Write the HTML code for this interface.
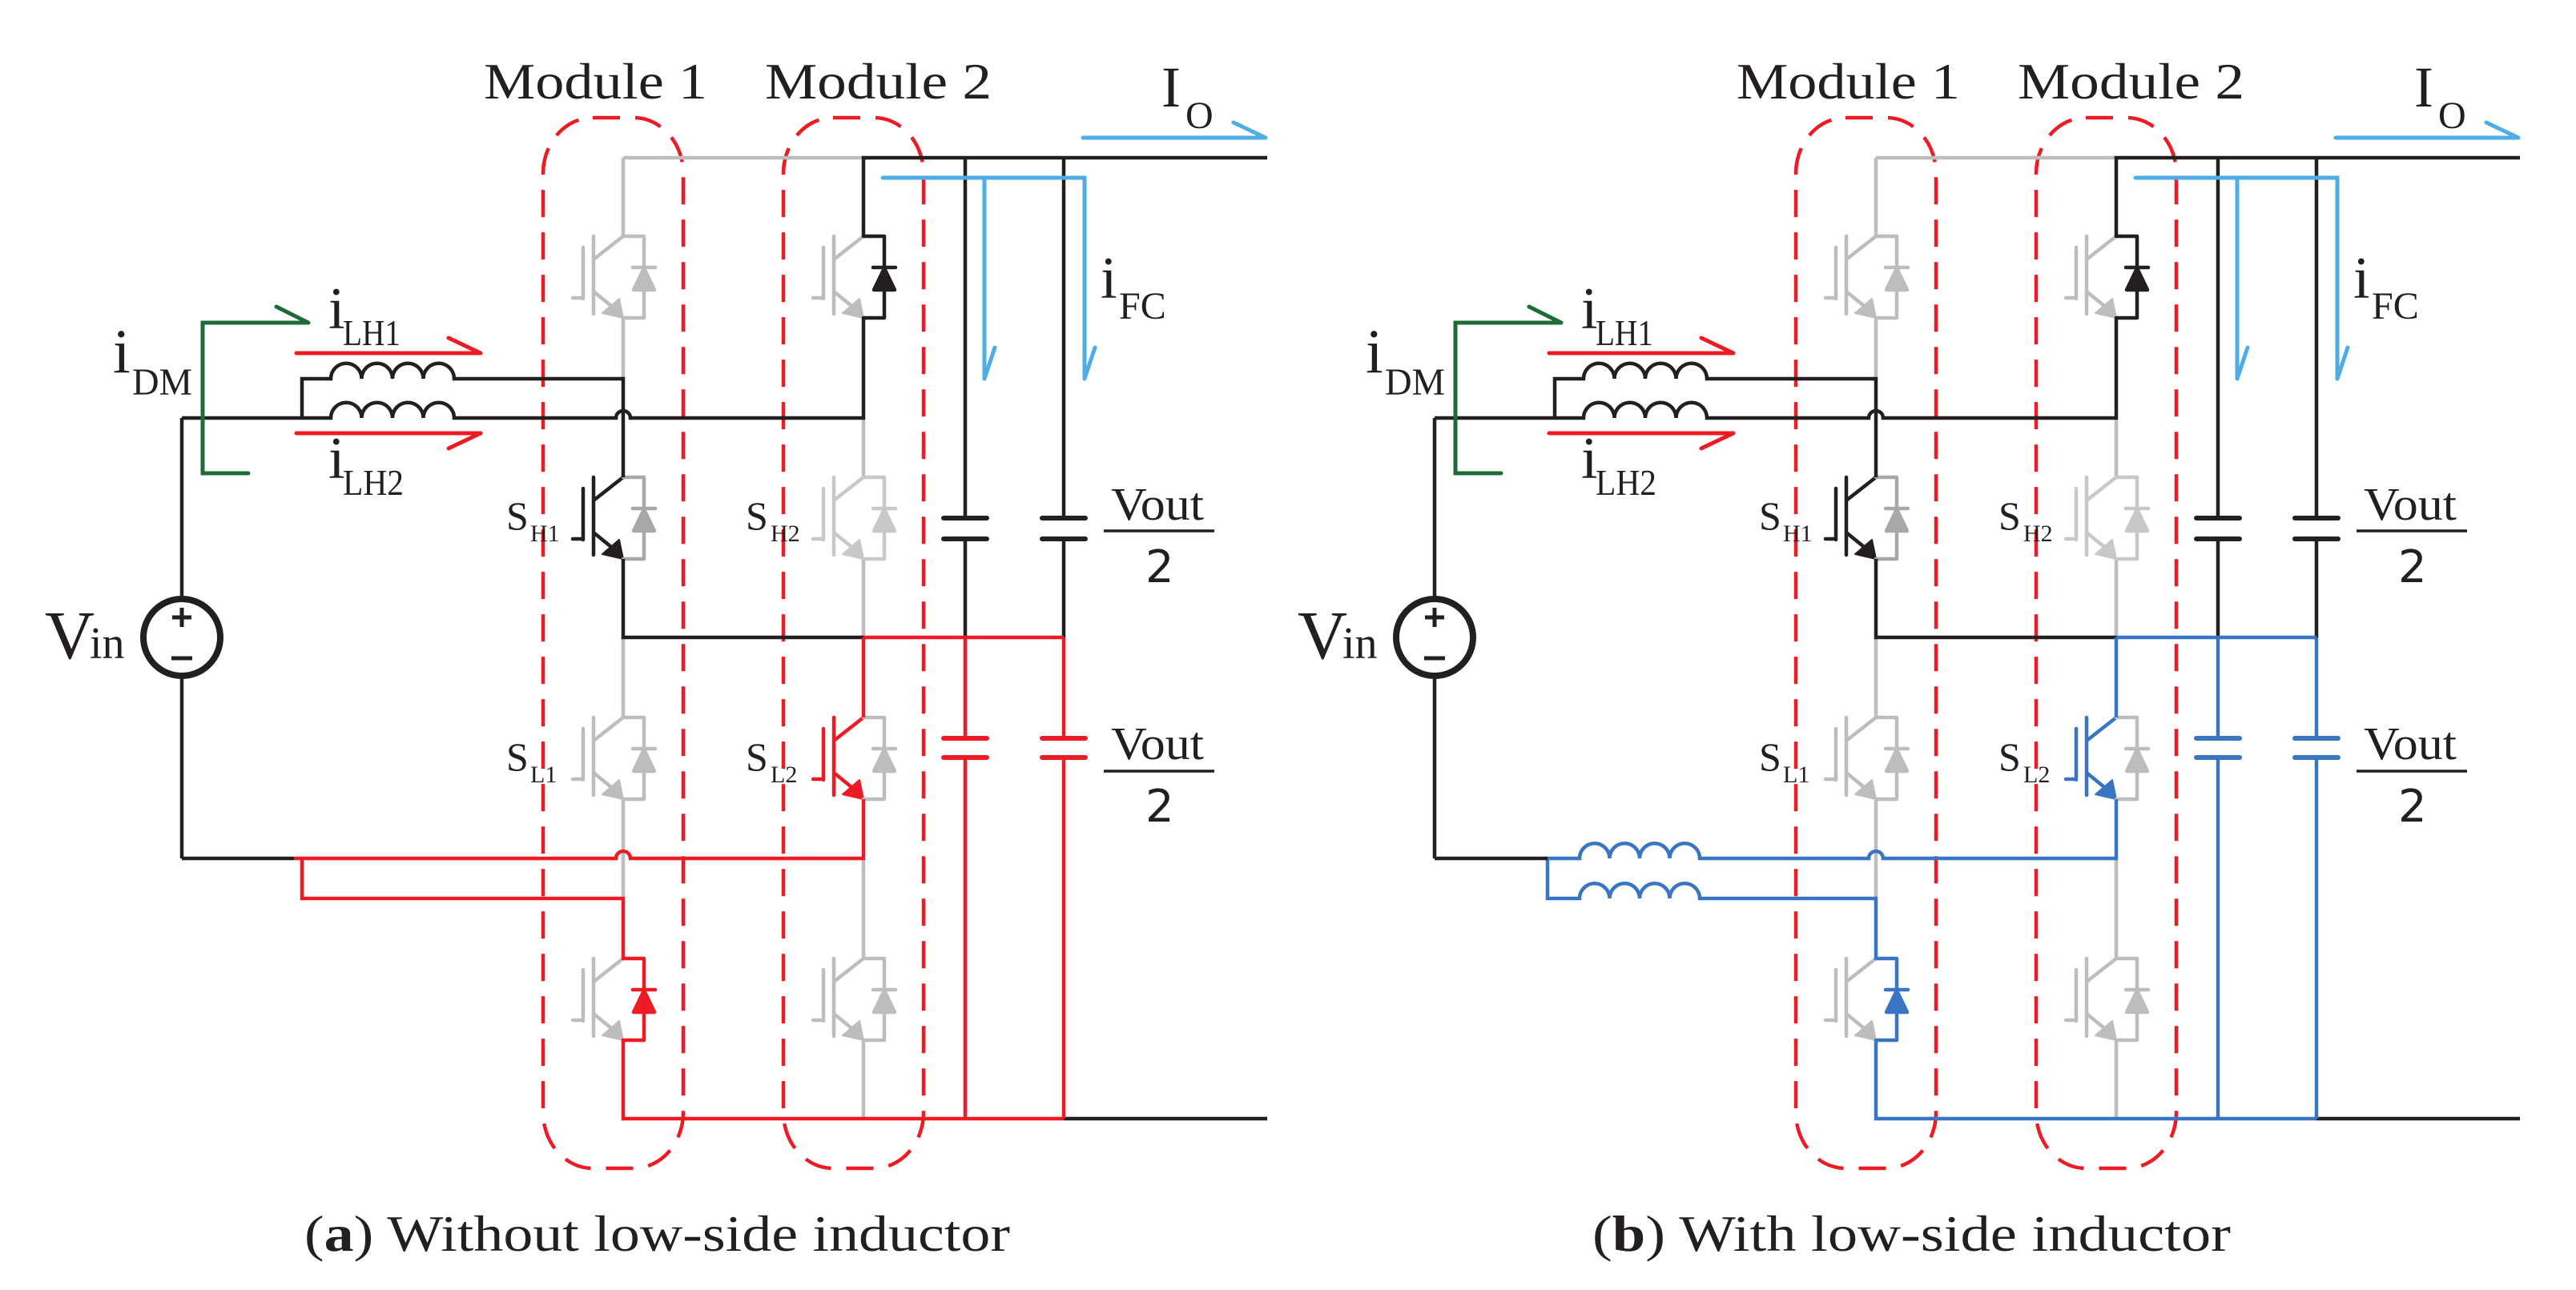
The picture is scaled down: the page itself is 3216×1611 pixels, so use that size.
<!DOCTYPE html>
<html><head><meta charset="utf-8"><style>
html,body{margin:0;padding:0;background:#fff;}
svg{display:block;}
text{font-family:"Liberation Serif",serif;fill:#231f20;}
</style></head><body>
<svg width="3216" height="1611" viewBox="0 0 3216 1611" xmlns="http://www.w3.org/2000/svg">
<defs>
<g id="sw" fill="none" stroke="currentColor" stroke-width="4.5" stroke-linecap="round" stroke-linejoin="round">
 <path d="M0,0 L-37,29 M-37,0 V97 M-50,14 V78 M-63,77 H-50 M-37,69 L-10,91"/>
 <path d="M0,102 L-26,96 L-5,78 Z" fill="currentColor" stroke="currentColor" stroke-width="2"/>
</g>
<g id="dio" fill="none" stroke="currentColor" stroke-width="4.5" stroke-linecap="round" stroke-linejoin="round">
 <path d="M0,0 H26 V102 H0"/>
 <path d="M12,39 H40"/>
 <path d="M26,40 L13,67 H39 Z" fill="currentColor"/>
</g>
<g id="panel">
 <g fill="none" stroke="#ed1c24" stroke-width="4.5" stroke-dasharray="34,19">
  <rect x="678" y="147" width="175" height="1312" rx="62" ry="70"/>
  <rect x="978" y="147" width="175" height="1312" rx="62" ry="70"/>
 </g>
 <g fill="none" stroke="#bdbdbd" stroke-width="4.5">
  <path d="M778,197 H1078 M778,197 V295 M778,397 V473 M1078,522 V596 M1078,698 V796 M778,796 V896 M778,998 V1122 M1078,1072 V1197 M1078,1299 V1397"/>
 </g>
 <use href="#sw" x="778" y="295" style="color:#bdbdbd"/>
 <use href="#dio" x="778" y="295" style="color:#bdbdbd"/>
 <use href="#sw" x="1078" y="295" style="color:#bdbdbd"/>
 <use href="#dio" x="1078" y="295" style="color:#231f20"/>
 <use href="#sw" x="778" y="596" style="color:#231f20"/>
 <use href="#dio" x="778" y="596" style="color:#a8a8a8"/>
 <use href="#sw" x="1078" y="596" style="color:#c8c8c8"/>
 <use href="#dio" x="1078" y="596" style="color:#c8c8c8"/>
 <use href="#sw" x="778" y="896" style="color:#bdbdbd"/>
 <use href="#dio" x="778" y="896" style="color:#bdbdbd"/>
 <use href="#sw" x="1078" y="896" style="color:var(--c)"/>
 <use href="#dio" x="1078" y="896" style="color:#bdbdbd"/>
 <use href="#sw" x="778" y="1197" style="color:#bdbdbd"/>
 <use href="#dio" x="778" y="1197" style="color:var(--c)"/>
 <use href="#sw" x="1078" y="1197" style="color:#bdbdbd"/>
 <use href="#dio" x="1078" y="1197" style="color:#bdbdbd"/>
 <g fill="none" stroke="#231f20" stroke-width="4.5" stroke-linejoin="miter">
  <path d="M227,522 V745 M227,847 V1072"/>
  <path d="M227,522 H413 a19.25,19.25 0 0 1 38.5,0 a19.25,19.25 0 0 1 38.5,0 a19.25,19.25 0 0 1 38.5,0 a19.25,19.25 0 0 1 38.5,0 H769 A9,9 0 0 1 787,522 H1078 V397"/>
  <path d="M377,522 V473 H413 a19.25,19.25 0 0 1 38.5,0 a19.25,19.25 0 0 1 38.5,0 a19.25,19.25 0 0 1 38.5,0 a19.25,19.25 0 0 1 38.5,0 H778 V596"/>
  <path d="M1078,295 V197 H1582"/>
  <path d="M778,698 V796 H1078"/>
  <path d="M1205,197 V647 M1328,197 V647 M1205,673 V796 M1328,673 V796 M1328,1397 H1582"/>
  <path d="M1178,647 H1232 M1178,673 H1232 M1301,647 H1355 M1301,673 H1355" stroke-width="6" stroke-linecap="round"/>
 </g>
 <g fill="none" stroke="var(--c)" stroke-width="4.5">
  <path d="M1078,796 H1328 M1078,796 V896 M778,1299 V1397 H1328"/>
  <path d="M1205,796 V922 M1205,946 V1397 M1328,796 V922 M1328,946 V1397"/>
  <path d="M1178,922 H1232 M1178,946 H1232 M1301,922 H1355 M1301,946 H1355" stroke-width="6" stroke-linecap="round"/>
 </g>
 <circle cx="227" cy="796" r="48" fill="none" stroke="#231f20" stroke-width="8"/>
 <path d="M227,759 V783 M215,771 H239 M214,822 H240" stroke="#231f20" stroke-width="5"/>
 <g fill="none" stroke-linecap="round" stroke-width="5">
  <path d="M1352,172 H1580 M1540,153 L1580,172" stroke="#4fade6"/>
  <path d="M1102,222 H1354 V473 M1229,222 V473 M1229,473 L1242,434 M1354,473 L1367,434" stroke="#4fade6"/>
  <path d="M385,403 H253 V591 H310 M345,383 L385,403" stroke="#1d6b37"/>
  <path d="M370,441 H600 M560,422 L600,441 M370,541 H600 M560,560 L600,541" stroke="#ed1c24"/>
 </g>
 <text x="604" y="123" font-size="64" textLength="279" lengthAdjust="spacingAndGlyphs">Module 1</text>
 <text x="955" y="123" font-size="64" textLength="283" lengthAdjust="spacingAndGlyphs">Module 2</text>
 <text x="1450" y="133" font-size="72">I</text><text x="1480" y="160" font-size="48">O</text>
 <text x="1374" y="372" font-size="74">i</text><text x="1397" y="398" font-size="48">FC</text>
 <text x="410" y="410" font-size="74">i</text><text x="428" y="431" font-size="46" textLength="72" lengthAdjust="spacingAndGlyphs">LH1</text>
 <text x="410" y="597" font-size="74">i</text><text x="428" y="618" font-size="46" textLength="76" lengthAdjust="spacingAndGlyphs">LH2</text>
 <text x="141" y="465" font-size="78">i</text><text x="165" y="493" font-size="48" textLength="75" lengthAdjust="spacingAndGlyphs">DM</text>
 <text x="56" y="822" font-size="86">V</text><text x="112" y="822" font-size="56">in</text>
 <text x="632" y="661" font-size="50">S</text><text x="662" y="676" font-size="30">H1</text>
 <text x="931" y="661" font-size="50">S</text><text x="962" y="676" font-size="30">H2</text>
 <text x="632" y="962" font-size="50">S</text><text x="662" y="977" font-size="30">L1</text>
 <text x="931" y="962" font-size="50">S</text><text x="962" y="977" font-size="30">L2</text>
 <text x="1387" y="649" font-size="58" textLength="116" lengthAdjust="spacingAndGlyphs">Vout</text>
 <path d="M1378,663 H1516 M1378,963 H1516" stroke="#231f20" stroke-width="3.5"/>
 <text x="1430" y="727" font-size="56" style="font-family:'DejaVu Sans',sans-serif">2</text>
 <text x="1387" y="948" font-size="58" textLength="116" lengthAdjust="spacingAndGlyphs">Vout</text>
 <text x="1430" y="1026" font-size="56" style="font-family:'DejaVu Sans',sans-serif">2</text>
</g>
</defs>

<g style="--c:#ed1c24">
 <use href="#panel"/>
 <g fill="none" stroke="#ed1c24" stroke-width="4.5">
  <path d="M1078,998 V1072 H787 A9,9 0 0 0 769,1072 H367"/>
  <path d="M377,1072 V1122 H778 V1197"/>
 </g>
 <path d="M227,1072 H367" stroke="#231f20" stroke-width="4.5" fill="none"/>
 <text x="380" y="1562" font-size="64" textLength="881" lengthAdjust="spacingAndGlyphs">(<tspan font-weight="bold">a</tspan>)  Without low-side inductor</text>
</g>

<g transform="translate(1564,0)" style="--c:#3a75c4">
 <use href="#panel"/>
 <g fill="none" stroke="#3a75c4" stroke-width="4.5">
  <path d="M1078,998 V1072 H787 A9,9 0 0 0 769,1072 H558 a18.75,18.75 0 0 0 -37.5,0 a18.75,18.75 0 0 0 -37.5,0 a18.75,18.75 0 0 0 -37.5,0 a18.75,18.75 0 0 0 -37.5,0 H368"/>
  <path d="M368,1072 V1122 H408 a18.75,18.75 0 0 1 37.5,0 a18.75,18.75 0 0 1 37.5,0 a18.75,18.75 0 0 1 37.5,0 a18.75,18.75 0 0 1 37.5,0 H778 V1197"/>
 </g>
 <path d="M227,1072 H368" stroke="#231f20" stroke-width="4.5" fill="none"/>
 <text x="424" y="1562" font-size="64" textLength="797" lengthAdjust="spacingAndGlyphs">(<tspan font-weight="bold">b</tspan>)  With low-side inductor</text>
</g>
</svg>
</body></html>
